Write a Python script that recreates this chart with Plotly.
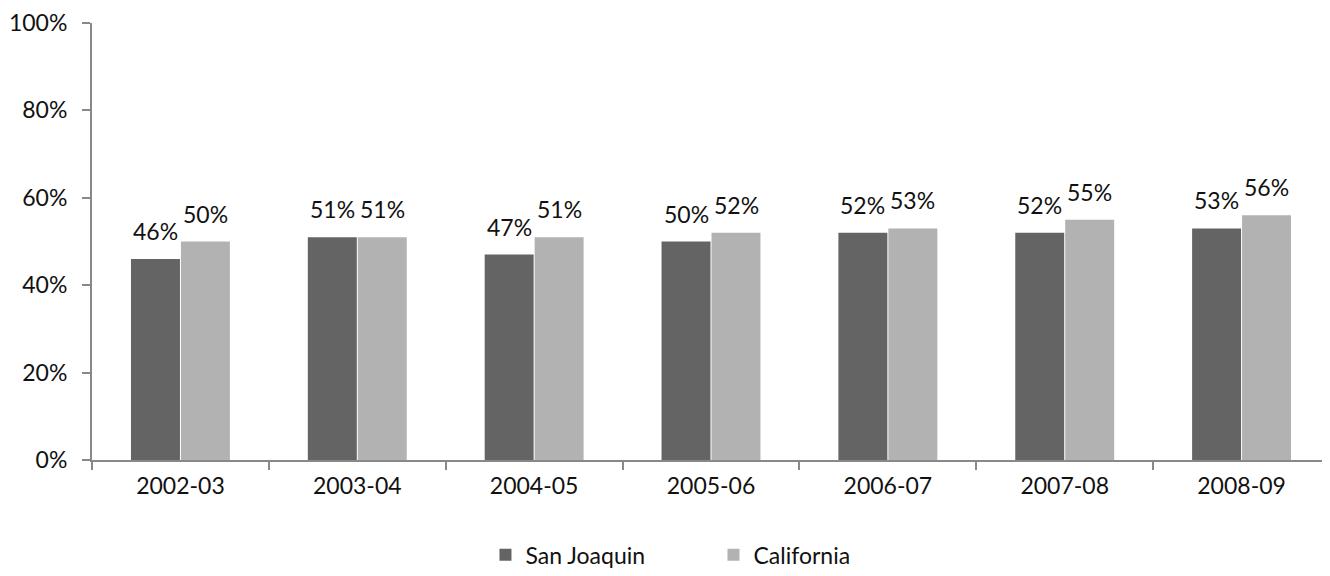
import plotly.graph_objects as go

years = ["2002-03", "2003-04", "2004-05", "2005-06", "2006-07", "2007-08", "2008-09"]
san_joaquin = [46, 51, 47, 50, 52, 52, 53]
california = [50, 51, 51, 52, 53, 55, 56]
y_ticks = [0, 20, 40, 60, 80, 100]
y_tick_labels = ["0%", "20%", "40%", "60%", "80%", "100%"]

DARK = "#646464"
LIGHT = "#b2b2b2"
AXIS = "#888888"
FONT = "Lato"
FS = 23

fig = go.Figure()
fig.add_trace(go.Bar(name="San Joaquin", x=years, y=san_joaquin, marker_color=DARK,
                     marker_line_width=0, hoverinfo="skip"))
fig.add_trace(go.Bar(name="California", x=years, y=california, marker_color=LIGHT,
                     marker_line_width=0, hoverinfo="skip"))

for i, (a, b) in enumerate(zip(san_joaquin, california)):
    fig.add_annotation(x=i, y=a, text=f"{a}%", showarrow=False, xshift=-25, yshift=28,
                       yanchor="middle", font=dict(family=FONT, size=FS, color="#111111"))
    fig.add_annotation(x=i, y=b, text=f"{b}%", showarrow=False, xshift=25, yshift=28,
                       yanchor="middle", font=dict(family=FONT, size=FS, color="#111111"))

fig.update_layout(
    width=1330, height=576,
    margin=dict(l=84, r=8, t=15, b=110),
    paper_bgcolor="white", plot_bgcolor="white",
    barmode="group", bargap=0.435, bargroupgap=0.02,
    font=dict(family=FONT, size=FS, color="#111111"),
    showlegend=True,
    legend=dict(orientation="h", x=0.502, xanchor="center", y=-0.217, yanchor="middle",
                font=dict(family=FONT, size=FS), entrywidth=183, entrywidthmode="pixels",
                itemwidth=30),
)
fig.update_xaxes(type="category", showline=True, linecolor=AXIS, linewidth=2,
                 ticks="outside", tickson="boundaries", ticklen=8, tickcolor=AXIS, tickwidth=2,
                 showgrid=False, automargin=False, ticklabelstandoff=4,
                 tickfont=dict(family=FONT, size=FS))
fig.update_yaxes(range=[0, 100], tickvals=y_ticks, ticktext=y_tick_labels, showline=True,
                 linecolor=AXIS, linewidth=2, ticks="outside", ticklen=8, tickcolor=AXIS,
                 tickwidth=2, showgrid=False, zeroline=False, ticklabelstandoff=10,
                 automargin=False, tickfont=dict(family=FONT, size=FS))

fig.write_html("out.html")
